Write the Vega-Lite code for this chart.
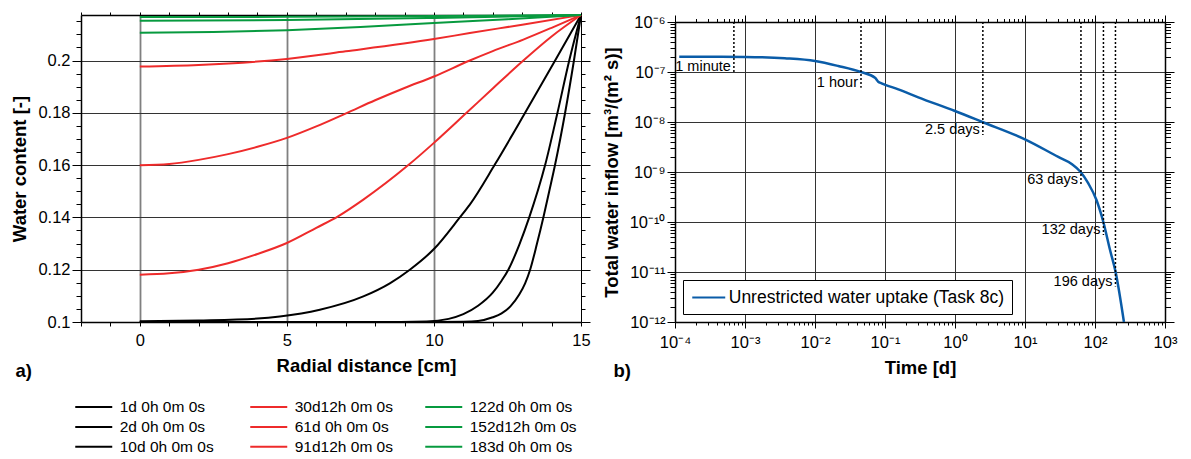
{
  "$schema": "https://vega.github.io/schema/vega-lite/v6.json",
  "padding": {"left": 10, "top": 11, "right": 5, "bottom": 0},
  "spacing": 11,
  "resolve": {"scale": {"color": "independent"}, "legend": {"color": "independent"}},
  "config": {
    "font": "Liberation Sans",
    "view": {"stroke": null},
    "axis": {"labelFont": "Liberation Sans", "labelFontSize": 16.5, "labelColor": "#000", "labelFlush": false, "titleFont": "Liberation Sans", "titleFontSize": 18.5, "titleFontWeight": "bold", "titleColor": "#000", "domainColor": "#000", "domainWidth": 1.5, "tickColor": "#000", "tickWidth": 1, "gridColor": "#333", "gridWidth": 1},
    "legend": {"labelFont": "Liberation Sans", "labelColor": "#000"}
  },
  "hconcat": [
    {
      "width": 500,
      "height": 307,
      "data": {"values": [
        {"s": "1d 0h 0m 0s", "r": 0, "w": 0.1}, {"s": "1d 0h 0m 0s", "r": 6, "w": 0.1}, {"s": "1d 0h 0m 0s", "r": 10, "w": 0.1}, {"s": "1d 0h 0m 0s", "r": 11, "w": 0.1001}, {"s": "1d 0h 0m 0s", "r": 11.5, "w": 0.1004}, {"s": "1d 0h 0m 0s", "r": 12, "w": 0.1018}, {"s": "1d 0h 0m 0s", "r": 12.3, "w": 0.1033}, {"s": "1d 0h 0m 0s", "r": 12.6, "w": 0.106}, {"s": "1d 0h 0m 0s", "r": 12.9, "w": 0.1105}, {"s": "1d 0h 0m 0s", "r": 13.1, "w": 0.1148}, {"s": "1d 0h 0m 0s", "r": 13.27, "w": 0.12}, {"s": "1d 0h 0m 0s", "r": 13.5, "w": 0.1298}, {"s": "1d 0h 0m 0s", "r": 13.72, "w": 0.14}, {"s": "1d 0h 0m 0s", "r": 13.92, "w": 0.15}, {"s": "1d 0h 0m 0s", "r": 14.12, "w": 0.1602}, {"s": "1d 0h 0m 0s", "r": 14.46, "w": 0.18}, {"s": "1d 0h 0m 0s", "r": 14.76, "w": 0.2}, {"s": "1d 0h 0m 0s", "r": 15, "w": 0.2174},
        {"s": "2d 0h 0m 0s", "r": 0, "w": 0.1}, {"s": "2d 0h 0m 0s", "r": 8, "w": 0.1}, {"s": "2d 0h 0m 0s", "r": 9.75, "w": 0.1002}, {"s": "2d 0h 0m 0s", "r": 10.5, "w": 0.1012}, {"s": "2d 0h 0m 0s", "r": 11, "w": 0.103}, {"s": "2d 0h 0m 0s", "r": 11.5, "w": 0.1062}, {"s": "2d 0h 0m 0s", "r": 12, "w": 0.1112}, {"s": "2d 0h 0m 0s", "r": 12.3, "w": 0.1158}, {"s": "2d 0h 0m 0s", "r": 12.53, "w": 0.12}, {"s": "2d 0h 0m 0s", "r": 12.9, "w": 0.1295}, {"s": "2d 0h 0m 0s", "r": 13.24, "w": 0.14}, {"s": "2d 0h 0m 0s", "r": 13.78, "w": 0.16}, {"s": "2d 0h 0m 0s", "r": 14.2, "w": 0.18}, {"s": "2d 0h 0m 0s", "r": 14.6, "w": 0.2}, {"s": "2d 0h 0m 0s", "r": 15, "w": 0.2174},
        {"s": "10d 0h 0m 0s", "r": 0, "w": 0.1003}, {"s": "10d 0h 0m 0s", "r": 2, "w": 0.1006}, {"s": "10d 0h 0m 0s", "r": 4, "w": 0.1013}, {"s": "10d 0h 0m 0s", "r": 4.76, "w": 0.1021}, {"s": "10d 0h 0m 0s", "r": 6.12, "w": 0.1047}, {"s": "10d 0h 0m 0s", "r": 7.6, "w": 0.1098}, {"s": "10d 0h 0m 0s", "r": 8.5, "w": 0.1148}, {"s": "10d 0h 0m 0s", "r": 9.18, "w": 0.12}, {"s": "10d 0h 0m 0s", "r": 10, "w": 0.1279}, {"s": "10d 0h 0m 0s", "r": 10.88, "w": 0.14}, {"s": "10d 0h 0m 0s", "r": 11.22, "w": 0.1449}, {"s": "10d 0h 0m 0s", "r": 12.07, "w": 0.1602}, {"s": "10d 0h 0m 0s", "r": 13.1, "w": 0.18}, {"s": "10d 0h 0m 0s", "r": 14.12, "w": 0.2}, {"s": "10d 0h 0m 0s", "r": 15, "w": 0.2174},
        {"s": "30d12h 0m 0s", "r": 0, "w": 0.1181}, {"s": "30d12h 0m 0s", "r": 1, "w": 0.1186}, {"s": "30d12h 0m 0s", "r": 2, "w": 0.12}, {"s": "30d12h 0m 0s", "r": 3, "w": 0.1225}, {"s": "30d12h 0m 0s", "r": 4, "w": 0.126}, {"s": "30d12h 0m 0s", "r": 5, "w": 0.1302}, {"s": "30d12h 0m 0s", "r": 6, "w": 0.136}, {"s": "30d12h 0m 0s", "r": 6.74, "w": 0.1404}, {"s": "30d12h 0m 0s", "r": 7.6, "w": 0.1468}, {"s": "30d12h 0m 0s", "r": 9.13, "w": 0.16}, {"s": "30d12h 0m 0s", "r": 10, "w": 0.1685}, {"s": "30d12h 0m 0s", "r": 11.1, "w": 0.1799}, {"s": "30d12h 0m 0s", "r": 12, "w": 0.1893}, {"s": "30d12h 0m 0s", "r": 13.04, "w": 0.2}, {"s": "30d12h 0m 0s", "r": 14, "w": 0.2092}, {"s": "30d12h 0m 0s", "r": 15, "w": 0.2174},
        {"s": "61d 0h 0m 0s", "r": 0, "w": 0.1599}, {"s": "61d 0h 0m 0s", "r": 1, "w": 0.1604}, {"s": "61d 0h 0m 0s", "r": 2, "w": 0.162}, {"s": "61d 0h 0m 0s", "r": 3, "w": 0.1642}, {"s": "61d 0h 0m 0s", "r": 4, "w": 0.167}, {"s": "61d 0h 0m 0s", "r": 5, "w": 0.1704}, {"s": "61d 0h 0m 0s", "r": 6, "w": 0.1748}, {"s": "61d 0h 0m 0s", "r": 7.03, "w": 0.1799}, {"s": "61d 0h 0m 0s", "r": 8, "w": 0.1848}, {"s": "61d 0h 0m 0s", "r": 9, "w": 0.1895}, {"s": "61d 0h 0m 0s", "r": 10, "w": 0.1939}, {"s": "61d 0h 0m 0s", "r": 11.22, "w": 0.2}, {"s": "61d 0h 0m 0s", "r": 12, "w": 0.2036}, {"s": "61d 0h 0m 0s", "r": 13.04, "w": 0.208}, {"s": "61d 0h 0m 0s", "r": 14, "w": 0.2125}, {"s": "61d 0h 0m 0s", "r": 15, "w": 0.2174},
        {"s": "91d12h 0m 0s", "r": 0, "w": 0.1977}, {"s": "91d12h 0m 0s", "r": 2, "w": 0.1983}, {"s": "91d12h 0m 0s", "r": 5, "w": 0.2006}, {"s": "91d12h 0m 0s", "r": 7, "w": 0.2035}, {"s": "91d12h 0m 0s", "r": 10, "w": 0.2082}, {"s": "91d12h 0m 0s", "r": 11.22, "w": 0.2105}, {"s": "91d12h 0m 0s", "r": 13, "w": 0.2137}, {"s": "91d12h 0m 0s", "r": 15, "w": 0.2174},
        {"s": "122d 0h 0m 0s", "r": 0, "w": 0.2106}, {"s": "122d 0h 0m 0s", "r": 2.5, "w": 0.2109}, {"s": "122d 0h 0m 0s", "r": 5, "w": 0.2116}, {"s": "122d 0h 0m 0s", "r": 7.5, "w": 0.2128}, {"s": "122d 0h 0m 0s", "r": 10, "w": 0.2143}, {"s": "122d 0h 0m 0s", "r": 12.5, "w": 0.2158}, {"s": "122d 0h 0m 0s", "r": 15, "w": 0.2174},
        {"s": "152d12h 0m 0s", "r": 0, "w": 0.2152}, {"s": "152d12h 0m 0s", "r": 5, "w": 0.2155}, {"s": "152d12h 0m 0s", "r": 10, "w": 0.2163}, {"s": "152d12h 0m 0s", "r": 15, "w": 0.2174},
        {"s": "183d 0h 0m 0s", "r": 0, "w": 0.2166}, {"s": "183d 0h 0m 0s", "r": 5, "w": 0.2167}, {"s": "183d 0h 0m 0s", "r": 10, "w": 0.217}, {"s": "183d 0h 0m 0s", "r": 15, "w": 0.2174}
      ]},
      "layer": [
        {
          "mark": {"type": "line", "strokeWidth": 2, "interpolate": "monotone"},
          "encoding": {
            "x": {"field": "r", "type": "quantitative", "scale": {"domain": [-2, 15], "nice": false, "zero": false},
              "axis": {"orient": "bottom", "title": "Radial distance [cm]", "titleX": 285, "titlePadding": 8,
                "values": [-2, -1, 0, 1, 2, 3, 4, 5, 6, 7, 8, 9, 10, 11, 12, 13, 14, 15],
                "labelExpr": "datum.value % 5 === 0 ? datum.label : ''", "format": "d", "labelPadding": 6, "tickSize": 4,
                "grid": true, "gridColor": "#808080", "gridWidth": 1.8,
                "gridOpacity": {"condition": {"test": "datum.value % 5 === 0 && datum.value < 14", "value": 1}, "value": 0}}},
            "y": {"field": "w", "type": "quantitative", "scale": {"domain": [0.1, 0.2174], "nice": false, "zero": false},
              "axis": {"orient": "left", "title": "Water content [-]", "titlePadding": 8,
                "values": [0.1, 0.105, 0.11, 0.115, 0.12, 0.125, 0.13, 0.135, 0.14, 0.145, 0.15, 0.155, 0.16, 0.165, 0.17, 0.175, 0.18, 0.185, 0.19, 0.195, 0.2, 0.205, 0.21, 0.215],
                "labelExpr": "abs(datum.value*50 - round(datum.value*50)) < 1e-6 ? format(datum.value, '.2~f') : ''",
                "labelPadding": 2,
                "tickSize": {"condition": {"test": "abs(datum.value*50 - round(datum.value*50)) < 1e-6", "value": 9}, "value": 5},
                "grid": true,
                "gridOpacity": {"condition": {"test": "abs(datum.value*50 - round(datum.value*50)) < 1e-6 && datum.value > 0.105", "value": 1}, "value": 0}}},
            "color": {"field": "s", "type": "nominal",
              "scale": {"domain": ["1d 0h 0m 0s", "2d 0h 0m 0s", "10d 0h 0m 0s", "30d12h 0m 0s", "61d 0h 0m 0s", "91d12h 0m 0s", "122d 0h 0m 0s", "152d12h 0m 0s", "183d 0h 0m 0s"],
                "range": ["#000000", "#000000", "#000000", "#ee2b2b", "#ee2b2b", "#ee2b2b", "#079a3f", "#079a3f", "#079a3f"]},
              "legend": {"title": null, "orient": "none", "legendX": -7, "legendY": 381.5, "columns": 3, "gridAlign": "all", "symbolType": "M-2,0H2", "symbolSize": 342, "symbolOffset": 9.25, "symbolStrokeWidth": 2, "labelFontSize": 15.5, "labelOffset": 15.5, "columnPadding": 19, "rowPadding": 0.9, "padding": 0}}
          }
        },
        {
          "mark": {"type": "line", "opacity": 0},
          "encoding": {
            "x": {"field": "r", "type": "quantitative",
              "axis": {"orient": "top", "title": null, "labels": false, "grid": false, "tickSize": 3,
                "values": [-2, -1, 0, 1, 2, 3, 4, 5, 6, 7, 8, 9, 10, 11, 12, 13, 14, 15]}},
            "y": {"field": "w", "type": "quantitative",
              "axis": {"orient": "right", "title": null, "labels": false, "grid": false, "domainWidth": 1,
                "values": [0.1, 0.105, 0.11, 0.115, 0.12, 0.125, 0.13, 0.135, 0.14, 0.145, 0.15, 0.155, 0.16, 0.165, 0.17, 0.175, 0.18, 0.185, 0.19, 0.195, 0.2, 0.205, 0.21, 0.215],
                "tickSize": {"condition": {"test": "abs(datum.value*50 - round(datum.value*50)) < 1e-6", "value": 9}, "value": 4}}},
            "detail": {"field": "s"}
          }
        },
        {
          "mark": {"type": "point", "opacity": 0},
          "encoding": {
            "x": {"field": "r", "type": "quantitative",
              "axis": {"orient": "bottom", "domain": false, "ticks": false, "labels": false, "grid": false,
                "title": "a)", "titleX": -66, "titleY": 39, "titleAlign": "left", "titleBaseline": "top"}}
          }
        }
      ],
      "resolve": {"axis": {"x": "independent", "y": "independent"}}
    },
    {
      "bounds": "flush",
      "spacing": 6,
      "resolve": {"scale": {"color": "independent"}, "legend": {"color": "independent"}},
      "vconcat": [
        {"width": 490, "height": 1, "data": {"values": []}, "mark": {"type": "point", "opacity": 0}},
        {
          "width": 490,
          "height": 300,
          "layer": [
            {
              "data": {"values": [
                {"series": "Unrestricted water uptake (Task 8c)", "t": 0.000115, "q": 2.02e-7},
                {"series": "Unrestricted water uptake (Task 8c)", "t": 0.0003, "q": 2.02e-7},
                {"series": "Unrestricted water uptake (Task 8c)", "t": 0.001, "q": 2.0e-7},
                {"series": "Unrestricted water uptake (Task 8c)", "t": 0.0037, "q": 1.88e-7},
                {"series": "Unrestricted water uptake (Task 8c)", "t": 0.01, "q": 1.66e-7},
                {"series": "Unrestricted water uptake (Task 8c)", "t": 0.0215, "q": 1.32e-7},
                {"series": "Unrestricted water uptake (Task 8c)", "t": 0.0454, "q": 1.0e-7},
                {"series": "Unrestricted water uptake (Task 8c)", "t": 0.072, "q": 7.7e-8},
                {"series": "Unrestricted water uptake (Task 8c)", "t": 0.08, "q": 6.4e-8},
                {"series": "Unrestricted water uptake (Task 8c)", "t": 0.0893, "q": 5.94e-8},
                {"series": "Unrestricted water uptake (Task 8c)", "t": 0.155, "q": 4.5e-8},
                {"series": "Unrestricted water uptake (Task 8c)", "t": 0.299, "q": 3.12e-8},
                {"series": "Unrestricted water uptake (Task 8c)", "t": 1, "q": 1.66e-8},
                {"series": "Unrestricted water uptake (Task 8c)", "t": 2.46, "q": 1.0e-8},
                {"series": "Unrestricted water uptake (Task 8c)", "t": 10, "q": 4.5e-9},
                {"series": "Unrestricted water uptake (Task 8c)", "t": 29.9, "q": 2.0e-9},
                {"series": "Unrestricted water uptake (Task 8c)", "t": 46.4, "q": 1.45e-9},
                {"series": "Unrestricted water uptake (Task 8c)", "t": 62.4, "q": 1.0e-9},
                {"series": "Unrestricted water uptake (Task 8c)", "t": 80.3, "q": 5.9e-10},
                {"series": "Unrestricted water uptake (Task 8c)", "t": 105, "q": 2.75e-10},
                {"series": "Unrestricted water uptake (Task 8c)", "t": 131.6, "q": 1.0e-10},
                {"series": "Unrestricted water uptake (Task 8c)", "t": 164, "q": 2.75e-11},
                {"series": "Unrestricted water uptake (Task 8c)", "t": 197, "q": 1.0e-11},
                {"series": "Unrestricted water uptake (Task 8c)", "t": 259, "q": 1.0e-12}
              ]},
              "mark": {"type": "line", "strokeWidth": 2.5, "interpolate": "monotone", "clip": true},
              "encoding": {
                "x": {"field": "t", "type": "quantitative", "scale": {"type": "log", "domain": [0.0001, 1000], "nice": false},
                  "axis": {"orient": "bottom", "title": "Time [d]", "titlePadding": 8, "labelPadding": 6,
                    "values": [0.0001, 0.0002, 0.0003, 0.0004, 0.0005, 0.0006, 0.0007, 0.0008, 0.0009, 0.001, 0.002, 0.003, 0.004, 0.005, 0.006, 0.007, 0.008, 0.009, 0.01, 0.02, 0.03, 0.04, 0.05, 0.06, 0.07, 0.08, 0.09, 0.1, 0.2, 0.3, 0.4, 0.5, 0.6, 0.7, 0.8, 0.9, 1, 2, 3, 4, 5, 6, 7, 8, 9, 10, 20, 30, 40, 50, 60, 70, 80, 90, 100, 200, 300, 400, 500, 600, 700, 800, 900, 1000],
                    "labelExpr": "abs(log(datum.value)/LN10 - round(log(datum.value)/LN10)) < 1e-4 ? '10' + ['⁻¹²','⁻¹¹','⁻¹⁰','⁻⁹','⁻⁸','⁻⁷','⁻⁶','⁻⁵','⁻⁴','⁻³','⁻²','⁻¹','⁰','¹','²','³'][round(log(datum.value)/LN10)+12] : ''",
                    "tickSize": {"condition": {"test": "abs(log(datum.value)/LN10 - round(log(datum.value)/LN10)) < 1e-4", "value": 6}, "value": 3},
                    "grid": true,
                    "gridOpacity": {"condition": {"test": "abs(log(datum.value)/LN10 - round(log(datum.value)/LN10)) < 1e-4", "value": 1}, "value": 0}}},
                "y": {"field": "q", "type": "quantitative", "scale": {"type": "log", "domain": [1e-12, 1e-6], "nice": false},
                  "axis": {"orient": "left", "title": "Total water inflow [m³/(m² s)]", "titlePadding": 8, "labelPadding": 2,
                    "values": [1e-12, 2e-12, 3e-12, 4e-12, 5e-12, 6e-12, 7e-12, 8e-12, 9e-12, 1e-11, 2e-11, 3e-11, 4e-11, 5e-11, 6e-11, 7e-11, 8e-11, 9e-11, 1e-10, 2e-10, 3e-10, 4e-10, 5e-10, 6e-10, 7e-10, 8e-10, 9e-10, 1e-9, 2e-9, 3e-9, 4e-9, 5e-9, 6e-9, 7e-9, 8e-9, 9e-9, 1e-8, 2e-8, 3e-8, 4e-8, 5e-8, 6e-8, 7e-8, 8e-8, 9e-8, 1e-7, 2e-7, 3e-7, 4e-7, 5e-7, 6e-7, 7e-7, 8e-7, 9e-7, 1e-6],
                    "labelExpr": "abs(log(datum.value)/LN10 - round(log(datum.value)/LN10)) < 1e-4 ? '10' + ['⁻¹²','⁻¹¹','⁻¹⁰','⁻⁹','⁻⁸','⁻⁷','⁻⁶','⁻⁵','⁻⁴','⁻³','⁻²','⁻¹','⁰','¹','²','³'][round(log(datum.value)/LN10)+12] : ''",
                    "tickSize": {"condition": {"test": "abs(log(datum.value)/LN10 - round(log(datum.value)/LN10)) < 1e-4", "value": 8}, "value": 5},
                    "grid": true,
                    "gridOpacity": {"condition": {"test": "abs(log(datum.value)/LN10 - round(log(datum.value)/LN10)) < 1e-4", "value": 1}, "value": 0}}},
                "color": {"field": "series", "type": "nominal", "scale": {"range": ["#0a5ca8"]},
                  "legend": {"title": null, "orient": "bottom-left", "offset": 8, "padding": 8, "strokeColor": "#000", "fillColor": "#fff", "symbolType": "M-2,0H2", "symbolSize": 272, "symbolOffset": 8.25, "symbolStrokeWidth": 2, "labelFontSize": 17.5, "labelOffset": 10.5, "labelLimit": 400}}
              }
            },
            {
              "data": {"values": [
                {"label": "1 minute", "t": 0.000694, "top": 1e-6, "bottom": 1e-7},
                {"label": "1 hour", "t": 0.0454, "top": 1e-6, "bottom": 4.85e-8},
                {"label": "2.5 days", "t": 2.5, "top": 1e-6, "bottom": 5.5e-9},
                {"label": "63 days", "t": 63, "top": 1e-6, "bottom": 5.5e-10},
                {"label": "132 days", "t": 132, "top": 1e-6, "bottom": 5.5e-11},
                {"label": "196 days", "t": 196, "top": 1e-6, "bottom": 5.1e-12}
              ]},
              "layer": [
                {
                  "mark": {"type": "rule", "strokeDash": [2, 2], "strokeWidth": 1.5, "color": "#000"},
                  "encoding": {
                    "x": {"field": "t", "type": "quantitative", "axis": null},
                    "y": {"field": "top", "type": "quantitative", "axis": null},
                    "y2": {"field": "bottom"}
                  }
                },
                {
                  "mark": {"type": "text", "align": "right", "baseline": "alphabetic", "dx": -3, "dy": -1, "fontSize": 14.5, "font": "Liberation Sans", "color": "#000"},
                  "encoding": {
                    "x": {"field": "t", "type": "quantitative", "axis": null},
                    "y": {"field": "bottom", "type": "quantitative", "axis": null},
                    "text": {"field": "label"}
                  }
                }
              ]
            },
            {
              "data": {"values": [{"t": 0.001, "q": 1e-9}, {"t": 1, "q": 1e-8}]},
              "mark": {"type": "point", "opacity": 0},
              "encoding": {
                "x": {"field": "t", "type": "quantitative",
                  "axis": {"orient": "top", "title": null, "labels": false, "grid": false,
                    "values": [0.0001, 0.0002, 0.0003, 0.0004, 0.0005, 0.0006, 0.0007, 0.0008, 0.0009, 0.001, 0.002, 0.003, 0.004, 0.005, 0.006, 0.007, 0.008, 0.009, 0.01, 0.02, 0.03, 0.04, 0.05, 0.06, 0.07, 0.08, 0.09, 0.1, 0.2, 0.3, 0.4, 0.5, 0.6, 0.7, 0.8, 0.9, 1, 2, 3, 4, 5, 6, 7, 8, 9, 10, 20, 30, 40, 50, 60, 70, 80, 90, 100, 200, 300, 400, 500, 600, 700, 800, 900, 1000],
                    "tickSize": {"condition": {"test": "abs(log(datum.value)/LN10 - round(log(datum.value)/LN10)) < 1e-4", "value": 7}, "value": 3.5}}},
                "y": {"field": "q", "type": "quantitative",
                  "axis": {"orient": "right", "title": null, "labels": false, "grid": false,
                    "values": [1e-12, 2e-12, 3e-12, 4e-12, 5e-12, 6e-12, 7e-12, 8e-12, 9e-12, 1e-11, 2e-11, 3e-11, 4e-11, 5e-11, 6e-11, 7e-11, 8e-11, 9e-11, 1e-10, 2e-10, 3e-10, 4e-10, 5e-10, 6e-10, 7e-10, 8e-10, 9e-10, 1e-9, 2e-9, 3e-9, 4e-9, 5e-9, 6e-9, 7e-9, 8e-9, 9e-9, 1e-8, 2e-8, 3e-8, 4e-8, 5e-8, 6e-8, 7e-8, 8e-8, 9e-8, 1e-7, 2e-7, 3e-7, 4e-7, 5e-7, 6e-7, 7e-7, 8e-7, 9e-7, 1e-6],
                    "tickSize": {"condition": {"test": "abs(log(datum.value)/LN10 - round(log(datum.value)/LN10)) < 1e-4", "value": 9}, "value": 5.5}}}
              }
            },
            {
              "data": {"values": [{"t": 0.001}]},
              "mark": {"type": "point", "opacity": 0},
              "encoding": {
                "x": {"field": "t", "type": "quantitative",
                  "axis": {"orient": "bottom", "domain": false, "ticks": false, "labels": false, "grid": false,
                    "title": "b)", "titleX": -62, "titleY": 39, "titleAlign": "left", "titleBaseline": "top"}}
              }
            }
          ],
          "resolve": {"axis": {"x": "independent", "y": "independent"}}
        }
      ]
    }
  ]
}
